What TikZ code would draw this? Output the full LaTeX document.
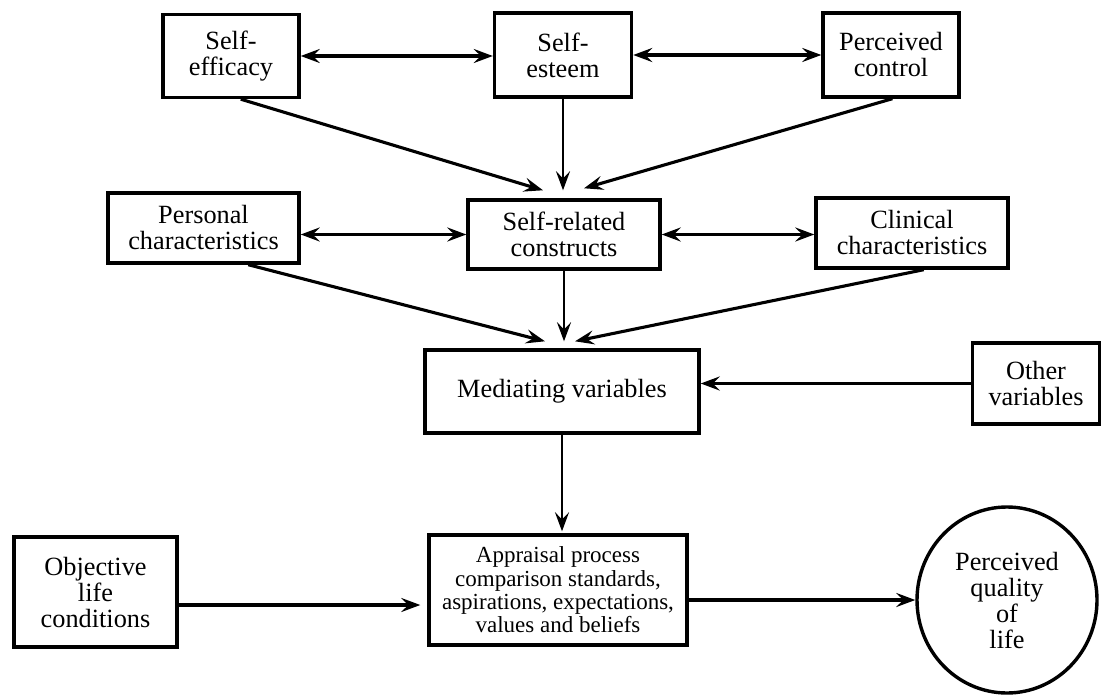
\documentclass[tikz,border=0pt]{standalone}
\usepackage{fontspec}
\setmainfont{Liberation Serif}
\usetikzlibrary{arrows.meta,calc,shapes.geometric}
\begin{document}
\begin{tikzpicture}[x=1pt,y=-1pt,
  box/.style={draw,line width=3.4pt,align=center,inner sep=0pt,font=\fontsize{26.3}{26}\selectfont},
  tip/.tip={Stealth[length=19pt,width=14pt,inset=7pt]},
  arr/.style={line width=3.1pt,-tip},
  darr/.style={line width=3.1pt,tip-tip},
  thinline/.style={line width=2.3pt}]
\useasboundingbox (0,0) rectangle (1102,695);
% top row
\node[box,minimum width=136pt,minimum height=83pt] (eff) at (231,56) {Self-\\efficacy};
\node[box,minimum width=137pt,minimum height=84pt] (est) at (563,55) {Self-\\esteem};
\node[box,minimum width=136pt,minimum height=84pt] (pc) at (891,55) {Perceived\\control};
% second row
\node[box,minimum width=191pt,minimum height=70pt] (pers) at (203.5,228) {Personal\\characteristics};
\node[box,minimum width=192pt,minimum height=69pt] (sr) at (564,234.5) {Self-related\\constructs};
\node[box,minimum width=192pt,minimum height=70pt] (clin) at (912,233) {Clinical\\characteristics};
% third row
\node[box,minimum width=274pt,minimum height=83pt] (med) at (562,391.5) {Mediating variables};
\node[box,minimum width=127pt,minimum height=81pt] (other) at (1036,383.5) {Other\\variables};
% bottom row
\node[box,minimum width=163pt,minimum height=110pt] (obj) at (95.5,592) {Objective\\life\\conditions};
\node[box,minimum width=258pt,minimum height=110pt,font=\fontsize{23}{23.3}\selectfont] (app) at (558,590)
  {Appraisal process\\comparison standards,\\aspirations, expectations,\\values and beliefs};
\node[box,ellipse,minimum width=180pt,minimum height=186pt] (qol) at (1007,600) {Perceived\\quality\\of\\life};
% connectors
\draw[darr] (eff.east) -- (est.west |- eff.east);
\draw[darr] (est.east) -- (pc.west);
\draw[arr] ($(eff.south west)!0.57!(eff.south east)$) -- ($(sr.north)+(-21,-8)$);
\draw[arr,thinline] (est.south) -- ($(est.south |- sr.north)+(0,-8)$);
\draw[arr] ($(pc.south west)!0.51!(pc.south east)$) -- ($(sr.north)+(20,-10)$);
\draw[darr] (pers.east |- sr.west) -- (sr.west);
\draw[darr] (sr.east) -- (clin.west |- sr.east);
\draw[arr] ($(pers.south west)!0.73!(pers.south east)$) -- ($(med.north)+(-17,-7)$);
\draw[arr,thinline] (sr.south) -- ($(sr.south |- med.north)+(0,-7)$);
\draw[arr] ($(clin.south west)!0.56!(clin.south east)$) -- ($(med.north)+(13,-7)$);
\draw[arr] (other.west) -- (med.east |- other.west);
\draw[arr,thinline] (med.south) -- ($(med.south |- app.north)+(0,-2)$);
\draw[arr] ($(obj.east)+(0,13)$) -- ($(app.west |- obj.east)+(-7,13)$);
\draw[arr] (app.east |- qol.west) -- (qol.west);
\end{tikzpicture}
\end{document}
